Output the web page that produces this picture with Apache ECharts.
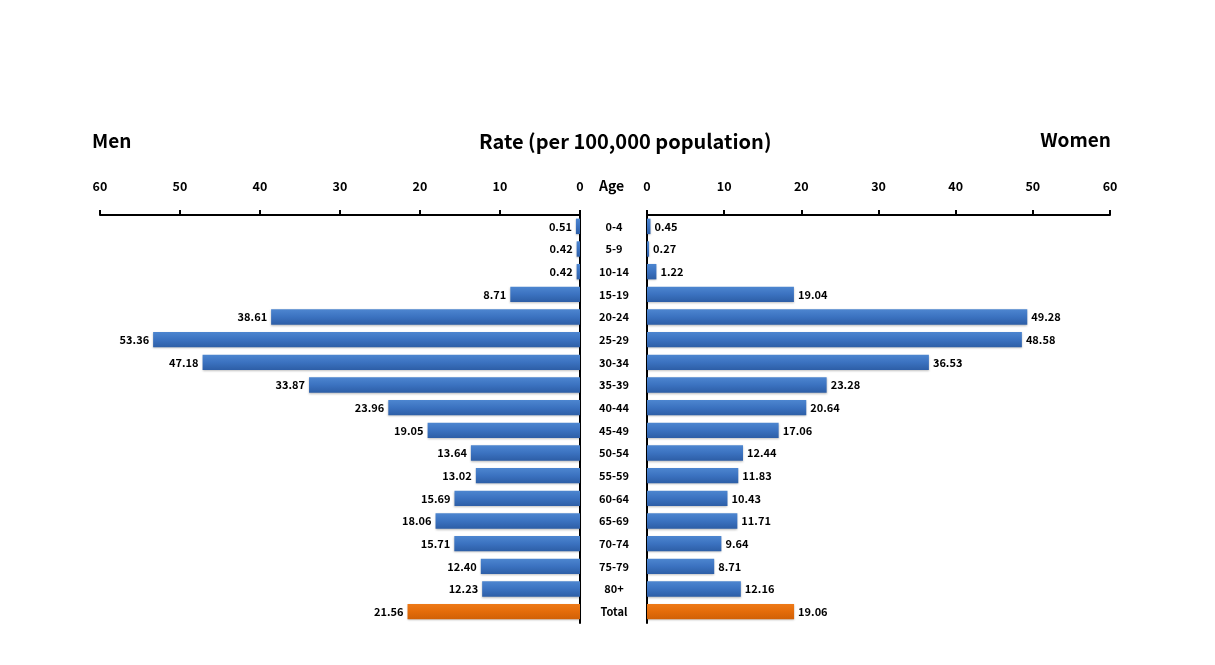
<!DOCTYPE html>
<html>
<head>
<meta charset="utf-8">
<script src="https://cdn.jsdelivr.net/npm/echarts@6/dist/echarts.min.js"></script>
<style>
html,body{margin:0;padding:0;background:#fff;}
#chart{width:1215px;height:665px;}
</style>
</head>
<body>
<div id="chart"></div>
<script>
var categories = ['0-4','5-9','10-14','15-19','20-24','25-29','30-34','35-39','40-44','45-49','50-54','55-59','60-64','65-69','70-74','75-79','80+','Total'];
var menValues = [0.51,0.42,0.42,8.71,38.61,53.36,47.18,33.87,23.96,19.05,13.64,13.02,15.69,18.06,15.71,12.40,12.23,21.56];
var womenValues = [0.45,0.27,1.22,19.04,49.28,48.58,36.53,23.28,20.64,17.06,12.44,11.83,10.43,11.71,9.64,8.71,12.16,19.06];
var totalLabel = 'Total';

var FONT = '"Noto Sans CJK KR","Noto Sans",sans-serif';
var blueGrad = new echarts.graphic.LinearGradient(0,0,0,1,[
  {offset:0,color:'#4d86d0'},{offset:0.5,color:'#3b72c0'},{offset:1,color:'#2d5ea6'}]);
var orangeGrad = new echarts.graphic.LinearGradient(0,0,0,1,[
  {offset:0,color:'#ee7a18'},{offset:0.5,color:'#e46c0a'},{offset:1,color:'#d06006'}]);

function mkData(vals){
  return vals.map(function(v,i){
    return {value:v, itemStyle:{color: categories[i]===totalLabel ? orangeGrad : blueGrad}};
  });
}

var chart = echarts.init(document.getElementById('chart'));
var xAxisCommon = {
  type:'value', min:0, max:60, interval:10, position:'top',
  axisLine:{show:true, lineStyle:{color:'#000', width:2}},
  axisTick:{show:true, length:5, lineStyle:{color:'#000', width:2}},
  axisLabel:{color:'#000', fontWeight:'bold', fontSize:12.5, fontFamily:FONT, margin:22},
  splitLine:{show:false}
};
var labelCommon = {show:true, color:'#000', fontWeight:'bold', fontSize:11, fontFamily:FONT, distance:4,
  formatter:function(p){return p.value.toFixed(2);}};

chart.setOption({
  animation:false,
  title:[
    {text:'Men', left:87, top:126, textStyle:{fontSize:19, fontWeight:'bold', color:'#000', fontFamily:FONT}},
    {text:'Rate (per 100,000 population)', left:474, top:126, textStyle:{fontSize:20, fontWeight:'bold', color:'#000', fontFamily:FONT}},
    {text:'Women', right:99, top:125, textStyle:{fontSize:19, fontWeight:'bold', color:'#000', fontFamily:FONT}},
    {text:'Age', left:594, top:174, textStyle:{fontSize:14, fontWeight:'bold', color:'#000', fontFamily:FONT}}
  ],
  grid:[
    {left:100, width:480, top:215, height:408},
    {left:647, width:463, top:215, height:408}
  ],
  xAxis:[
    Object.assign({gridIndex:0, inverse:true}, xAxisCommon),
    Object.assign({gridIndex:1}, xAxisCommon)
  ],
  yAxis:[
    {type:'category', gridIndex:0, data:categories, inverse:true, position:'right',
     axisLine:{show:true, onZero:false, lineStyle:{color:'#000', width:2}},
     axisTick:{show:false}, axisLabel:{show:false}},
    {type:'category', gridIndex:1, data:categories, inverse:true, position:'left',
     axisLine:{show:true, onZero:false, lineStyle:{color:'#000', width:2}},
     axisTick:{show:false},
     axisLabel:{show:true, color:'#000', fontWeight:'bold', fontSize:11, fontFamily:FONT, align:'center', margin:33}}
  ],
  series:[
    {type:'bar', xAxisIndex:0, yAxisIndex:0, data:mkData(menValues), barCategoryGap:'32%',
     label:Object.assign({position:'left'}, labelCommon),
     itemStyle:{shadowColor:'rgba(0,0,0,0.25)', shadowBlur:2, shadowOffsetY:1}},
    {type:'bar', xAxisIndex:1, yAxisIndex:1, data:mkData(womenValues), barCategoryGap:'32%',
     label:Object.assign({position:'right'}, labelCommon),
     itemStyle:{shadowColor:'rgba(0,0,0,0.25)', shadowBlur:2, shadowOffsetY:1}}
  ]
});
</script>
</body>
</html>
